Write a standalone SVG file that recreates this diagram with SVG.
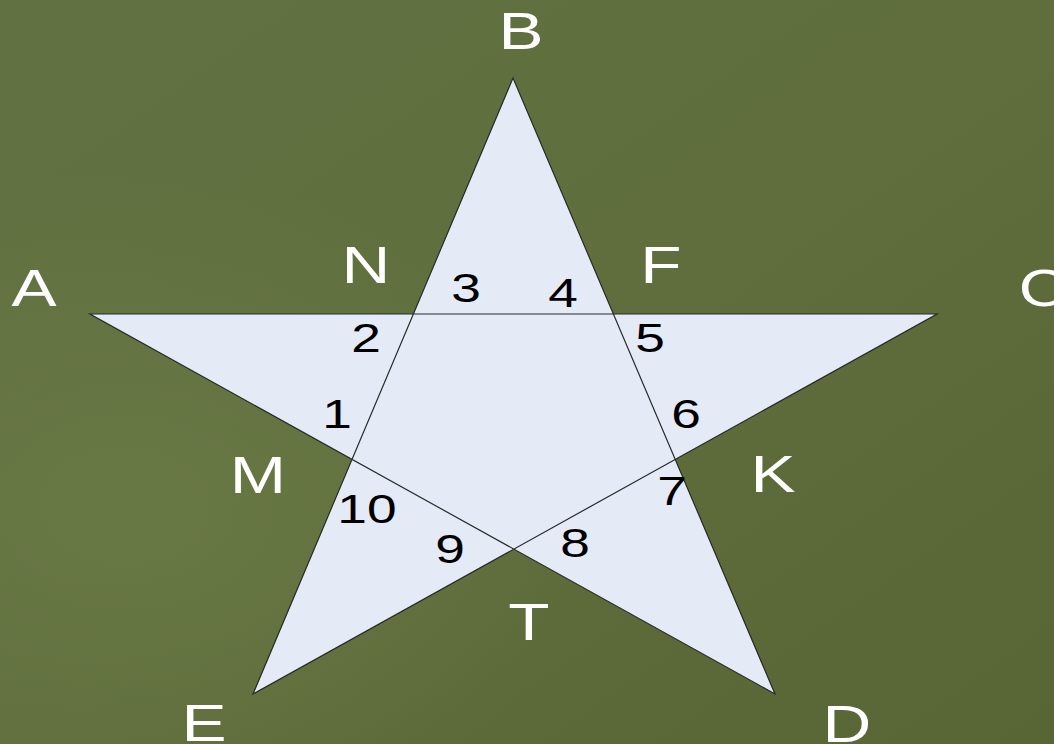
<svg xmlns="http://www.w3.org/2000/svg" width="1054" height="744" viewBox="0 0 1054 744">
  <defs>
    <linearGradient id="bg" x1="0" y1="0" x2="1" y2="1">
      <stop offset="0" stop-color="#627142"/>
      <stop offset="0.5" stop-color="#5f6e3c"/>
      <stop offset="1" stop-color="#586535"/>
    </linearGradient>
    <radialGradient id="glow" cx="0.12" cy="0.68" r="0.45">
      <stop offset="0" stop-color="#6b7b47" stop-opacity="0.8"/>
      <stop offset="1" stop-color="#6b7b47" stop-opacity="0"/>
    </radialGradient>
    <style>
      .star { fill: #e4eaf6; stroke: #2a2a2a; stroke-width: 1.2; stroke-linejoin: miter; }
      .lbl { font-family: "Liberation Sans", Arial, sans-serif; font-size: 52px; fill: #ffffff; text-anchor: middle; }
      .num { font-family: "Liberation Sans", Arial, sans-serif; font-size: 41px; fill: #000000; text-anchor: middle; }
    </style>
  </defs>
  <rect x="0" y="0" width="1054" height="744" fill="url(#bg)"/>
  <rect x="0" y="0" width="1054" height="744" fill="url(#glow)"/>

  <g id="star">
    <polygon class="star" points="90,314 937,314 253,694 513,78 775,694"/>
  </g>

  <g id="vertex-labels">
    <text class="lbl" transform="translate(521,49) scale(1.3,1)">B</text>
    <text class="lbl" transform="translate(34,306) scale(1.3,1)">A</text>
    <text class="lbl" transform="translate(1043,306) scale(1.3,1)">C</text>
    <text class="lbl" transform="translate(366,283) scale(1.3,1)">N</text>
    <text class="lbl" transform="translate(661,283) scale(1.3,1)">F</text>
    <text class="lbl" transform="translate(258,493) scale(1.3,1)">M</text>
    <text class="lbl" transform="translate(773,492) scale(1.3,1)">K</text>
    <text class="lbl" transform="translate(529,640) scale(1.3,1)">T</text>
    <text class="lbl" transform="translate(204,741) scale(1.3,1)">E</text>
    <text class="lbl" transform="translate(847,742) scale(1.3,1)">D</text>
  </g>

  <g id="angle-numbers">
    <text class="num" transform="translate(337,428) scale(1.3,1)">1</text>
    <text class="num" transform="translate(366,352) scale(1.3,1)">2</text>
    <text class="num" transform="translate(466,302) scale(1.3,1)">3</text>
    <text class="num" transform="translate(563,307) scale(1.3,1)">4</text>
    <text class="num" transform="translate(650,352) scale(1.3,1)">5</text>
    <text class="num" transform="translate(686,428) scale(1.3,1)">6</text>
    <text class="num" transform="translate(672,505) scale(1.3,1)">7</text>
    <text class="num" transform="translate(575,557) scale(1.3,1)">8</text>
    <text class="num" transform="translate(450,563) scale(1.3,1)">9</text>
    <text class="num" transform="translate(367,523) scale(1.3,1)">10</text>
  </g>
</svg>
